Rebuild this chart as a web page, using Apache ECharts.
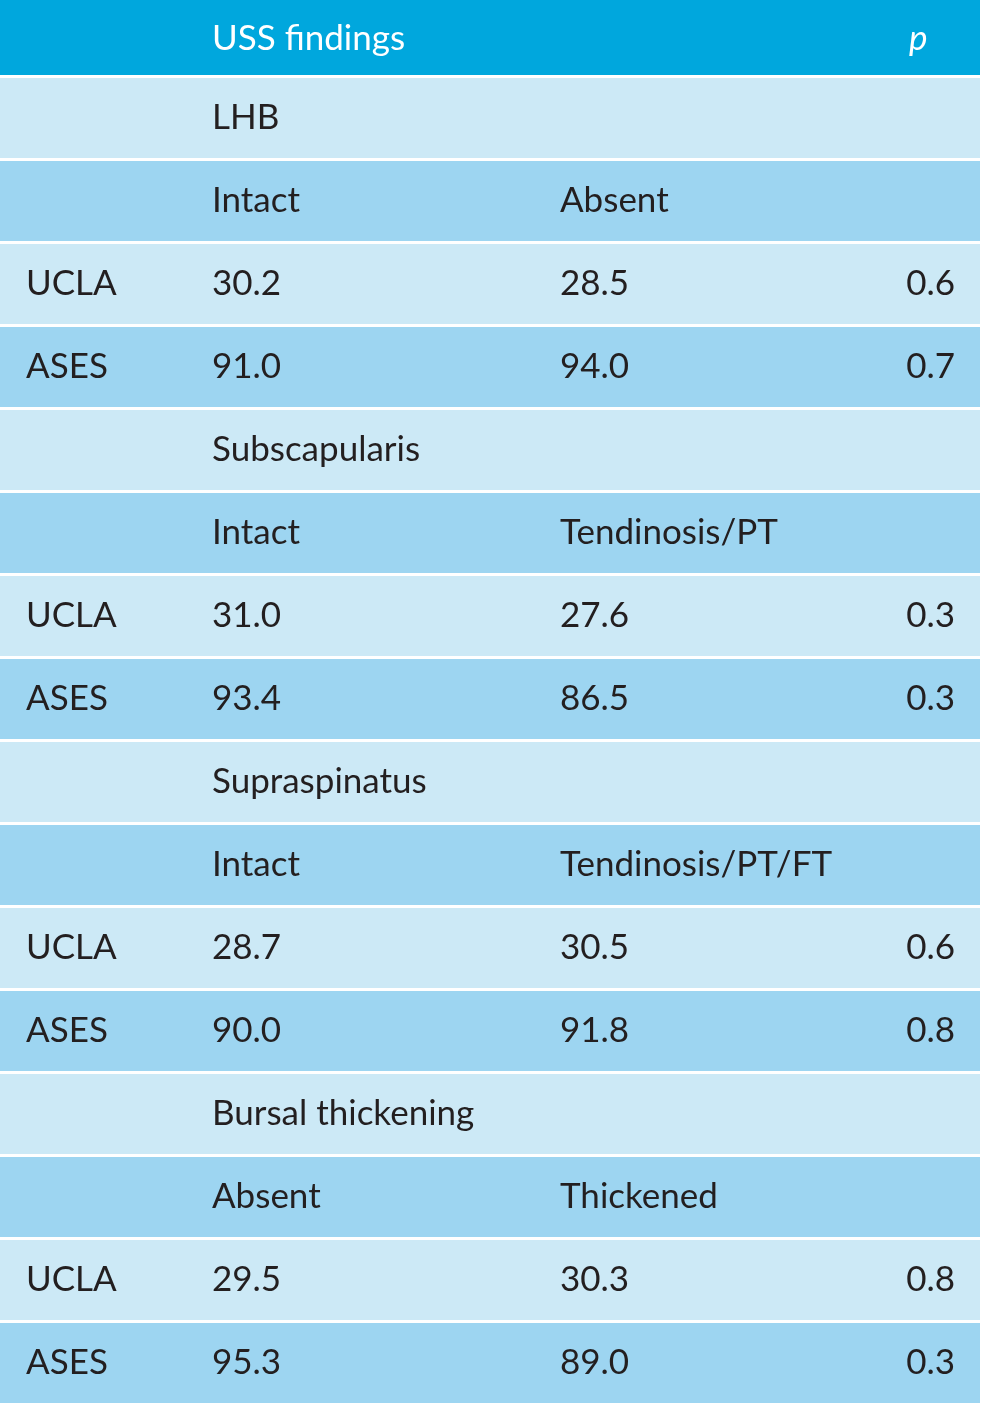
<!DOCTYPE html>
<html>
<head>
<meta charset="utf-8">
<script src="https://cdn.jsdelivr.net/npm/echarts@6/dist/echarts.min.js"></script>
<style>
  html, body { margin: 0; padding: 0; background: #fff; }
  #chart { width: 981px; height: 1404px; }
</style>
</head>
<body>
<div id="chart"></div>
<script>
// table content
const headerCells = ['', 'USS findings', '', 'p'];
const sections = ['LHB', 'Subscapularis', 'Supraspinatus', 'Bursal thickening'];
const groupA = ['Intact', 'Intact', 'Intact', 'Absent'];
const groupB = ['Absent', 'Tendinosis/PT', 'Tendinosis/PT/FT', 'Thickened'];
const scoreNames = ['UCLA', 'ASES'];
const uclaA = [30.2, 31.0, 28.7, 29.5];
const uclaB = [28.5, 27.6, 30.5, 30.3];
const uclaP = [0.6, 0.3, 0.6, 0.8];
const asesA = [91.0, 93.4, 90.0, 95.3];
const asesB = [94.0, 86.5, 91.8, 89.0];
const asesP = [0.7, 0.3, 0.8, 0.3];

// layout
const TABLE_W = 980;
const colX = [26, 212, 560, 955];
const P_HEAD_X = 909;
const GAP = 3;
const colors = { header: '#00A7DD', light: '#CCE9F6', dark: '#9DD5F1' };
const FONT = '35px Lato, "Open Sans", sans-serif';

const fmt = v => v.toFixed(1);

let rows = [{ cells: headerCells, kind: 'header' }];
sections.forEach((s, k) => {
  rows.push({ cells: ['', s, '', ''] });
  rows.push({ cells: ['', groupA[k], groupB[k], ''] });
  rows.push({ cells: [scoreNames[0], fmt(uclaA[k]), fmt(uclaB[k]), fmt(uclaP[k])] });
  rows.push({ cells: [scoreNames[1], fmt(asesA[k]), fmt(asesB[k]), fmt(asesP[k])] });
});
rows.forEach((r, i) => { if (i > 0) r.kind = (i % 2 === 1) ? 'light' : 'dark'; });

const chart = echarts.init(document.getElementById('chart'));

function renderRow(params, api) {
  const i = api.value(1);
  const row = rows[params.dataIndex];
  const c = api.coord([0, i]);
  const right = api.coord([TABLE_W, i])[0];
  const band = api.size([0, 1])[1];
  const h = band - GAP;
  const isHead = row.kind === 'header';
  const children = [{
    type: 'rect',
    shape: { x: c[0], y: c[1] - h / 2, width: right - c[0], height: h },
    style: { fill: colors[row.kind] }
  }];
  row.cells.forEach((t, j) => {
    if (!t) return;
    const last = j === 3;
    children.push({
      type: 'text',
      style: {
        text: t,
        x: api.coord([isHead && last ? P_HEAD_X : colX[j], i])[0],
        y: c[1] + (isHead ? 4 : 0),
        fill: isHead ? '#ffffff' : '#231F20',
        font: (isHead && last ? 'italic ' : '') + FONT,
        textAlign: last && !isHead ? 'right' : 'left',
        textVerticalAlign: 'middle'
      }
    });
  });
  return { type: 'group', children: children };
}

const option = {
  animation: false,
  grid: { left: 0, right: 981 - TABLE_W, top: 0, bottom: 0 },
  xAxis: { type: 'value', min: 0, max: TABLE_W, show: false },
  yAxis: {
    type: 'value',
    inverse: true,
    min: -0.422,
    max: 16.494,
    show: false
  },
  series: [{
    type: 'custom',
    renderItem: renderRow,
    data: rows.map((r, i) => [0, i]),
    clip: false,
    silent: true
  }]
};
chart.setOption(option);
</script>
</body>
</html>
